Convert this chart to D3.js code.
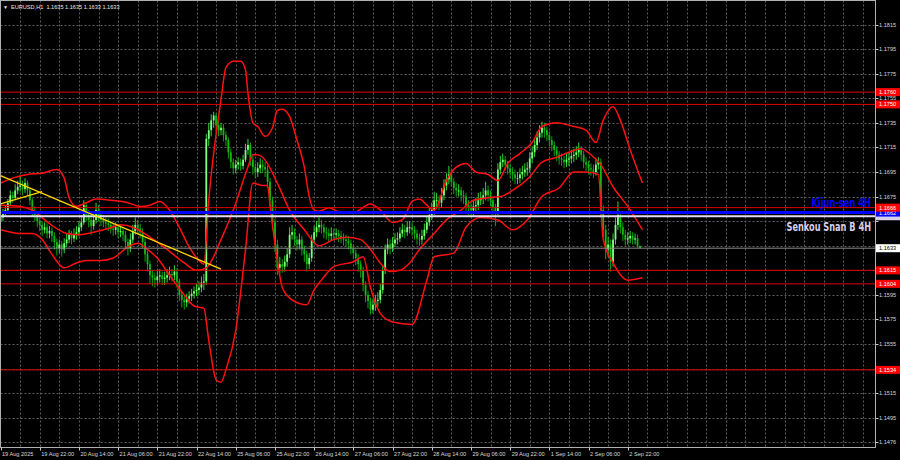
<!DOCTYPE html>
<html><head><meta charset="utf-8">
<script src="https://cdn.jsdelivr.net/npm/d3@7"></script>
<style>html,body{margin:0;padding:0;background:#000;overflow:hidden}</style>
</head><body>
<svg id="c" width="900" height="460"></svg>
<script>
// ---------------- data ----------------
const symbolTitle = "EURUSD,H1";
const titleQuote = ["1.1635", "1.1635", "1.1633", "1.1633"];
const firstOpen = 1.1655;
const closes = [
1.1658,1.1662,1.1664,1.1670,1.1676,1.1674,1.1680,1.1683,1.1684,1.1681,
1.1686,1.1680,1.1672,1.1663,1.1660,1.1655,1.1652,1.1648,1.1650,1.1645,
1.1647,1.1643,1.1638,1.1633,1.1636,1.1632,1.1637,1.1640,1.1644,1.1641,
1.1644,1.1646,1.1650,1.1654,1.1668,1.1660,1.1656,1.1651,1.1656,1.1664,
1.1660,1.1656,1.1654,1.1653,1.1652,1.1649,1.1648,1.1650,1.1646,1.1647,
1.1644,1.1638,1.1633,1.1640,1.1647,1.1652,1.1649,1.1646,1.1638,1.1628,
1.1620,1.1611,1.1609,1.1607,1.1610,1.1611,1.1608,1.1609,1.1611,1.1612,
1.1611,1.1614,1.1606,1.1595,1.1591,1.1589,1.1592,1.1594,1.1596,1.1598,
1.1599,1.1601,1.1605,1.1606,1.1722,1.1729,1.1737,1.1741,1.1733,1.1729,
1.1731,1.1725,1.1721,1.1711,1.1703,1.1698,1.1701,1.1703,1.1700,1.1705,
1.1713,1.1717,1.1705,1.1699,1.1695,1.1698,1.1701,1.1699,1.1697,1.1687,
1.1672,1.1654,1.1636,1.1617,1.1620,1.1618,1.1622,1.1628,1.1644,1.1646,
1.1640,1.1636,1.1640,1.1632,1.1628,1.1620,1.1625,1.1640,1.1646,1.1650,
1.1652,1.1650,1.1646,1.1645,1.1643,1.1645,1.1644,1.1645,1.1643,1.1641,
1.1640,1.1639,1.1637,1.1633,1.1629,1.1625,1.1620,1.1615,1.1603,1.1595,
1.1590,1.1583,1.1587,1.1590,1.1591,1.1599,1.1615,1.1632,1.1636,1.1633,
1.1637,1.1640,1.1641,1.1645,1.1648,1.1646,1.1650,1.1650,1.1648,1.1645,
1.1641,1.1640,1.1643,1.1648,1.1654,1.1660,1.1664,1.1672,1.1672,1.1670,
1.1676,1.1684,1.1689,1.1693,1.1687,1.1682,1.1680,1.1680,1.1676,1.1675,
1.1668,1.1666,1.1664,1.1667,1.1668,1.1672,1.1674,1.1676,1.1680,1.1676,
1.1672,1.1666,1.1663,1.1697,1.1703,1.1705,1.1701,1.1698,1.1695,1.1693,
1.1690,1.1690,1.1693,1.1695,1.1697,1.1698,1.1706,1.1711,1.1717,1.1723,
1.1727,1.1731,1.1729,1.1725,1.1721,1.1717,1.1713,1.1709,1.1706,1.1705,
1.1703,1.1705,1.1706,1.1708,1.1709,1.1711,1.1713,1.1709,1.1703,1.1701,
1.1698,1.1697,1.1695,1.1701,1.1703,1.1664,1.1648,1.1632,1.1636,1.1622,
1.1640,1.1652,1.1660,1.1650,1.1644,1.1640,1.1641,1.1643,1.1640,1.1641,
1.1635,1.1633];
const highs = [
1.1661,1.1665,1.1668,1.1673,1.1680,1.1679,1.1685,1.1688,1.1691,1.1688,
1.1690,1.1688,1.1682,1.1674,1.1667,1.1663,1.1658,1.1655,1.1654,1.1653,
1.1651,1.1650,1.1646,1.1641,1.1640,1.1639,1.1641,1.1645,1.1648,1.1647,
1.1649,1.1651,1.1655,1.1660,1.1672,1.1670,1.1664,1.1660,1.1662,1.1670,
1.1668,1.1663,1.1660,1.1658,1.1657,1.1655,1.1653,1.1654,1.1652,1.1651,
1.1650,1.1647,1.1641,1.1645,1.1652,1.1658,1.1656,1.1653,1.1649,1.1641,
1.1631,1.1623,1.1615,1.1613,1.1615,1.1616,1.1614,1.1614,1.1616,1.1618,
1.1616,1.1619,1.1617,1.1608,1.1598,1.1594,1.1596,1.1598,1.1600,1.1602,
1.1604,1.1606,1.1610,1.1612,1.1726,1.1735,1.1742,1.1744,1.1743,1.1737,
1.1735,1.1734,1.1728,1.1723,1.1714,1.1706,1.1705,1.1707,1.1706,1.1709,
1.1718,1.1722,1.1719,1.1708,1.1702,1.1703,1.1706,1.1705,1.1703,1.1700,
1.1690,1.1675,1.1657,1.1640,1.1626,1.1624,1.1627,1.1633,1.1650,1.1652,
1.1649,1.1643,1.1645,1.1643,1.1635,1.1631,1.1629,1.1644,1.1651,1.1655,
1.1658,1.1656,1.1653,1.1650,1.1649,1.1650,1.1649,1.1649,1.1648,1.1647,
1.1645,1.1644,1.1643,1.1640,1.1636,1.1632,1.1628,1.1623,1.1618,1.1606,
1.1598,1.1593,1.1592,1.1595,1.1597,1.1604,1.1619,1.1636,1.1641,1.1640,
1.1642,1.1645,1.1646,1.1650,1.1653,1.1652,1.1655,1.1655,1.1654,1.1651,
1.1648,1.1645,1.1648,1.1653,1.1659,1.1666,1.1670,1.1679,1.1678,1.1676,
1.1682,1.1689,1.1694,1.1700,1.1697,1.1690,1.1686,1.1685,1.1683,1.1680,
1.1678,1.1672,1.1670,1.1672,1.1674,1.1678,1.1679,1.1682,1.1687,1.1684,
1.1680,1.1675,1.1669,1.1702,1.1708,1.1710,1.1708,1.1704,1.1702,1.1699,
1.1697,1.1695,1.1698,1.1700,1.1702,1.1703,1.1711,1.1716,1.1722,1.1728,
1.1733,1.1736,1.1735,1.1732,1.1728,1.1724,1.1720,1.1716,1.1712,1.1710,
1.1708,1.1710,1.1711,1.1713,1.1714,1.1716,1.1719,1.1716,1.1712,1.1707,
1.1704,1.1702,1.1701,1.1706,1.1707,1.1706,1.1668,1.1652,1.1642,1.1640,
1.1645,1.1658,1.1671,1.1663,1.1654,1.1648,1.1646,1.1647,1.1646,1.1645,
1.1644,1.1635];
const lows = [
1.1651,1.1655,1.1659,1.1662,1.1668,1.1670,1.1672,1.1677,1.1679,1.1676,
1.1678,1.1676,1.1668,1.1659,1.1655,1.1650,1.1647,1.1643,1.1645,1.1641,
1.1641,1.1638,1.1632,1.1627,1.1629,1.1626,1.1629,1.1634,1.1637,1.1636,
1.1638,1.1640,1.1643,1.1647,1.1652,1.1655,1.1650,1.1644,1.1648,1.1653,
1.1655,1.1651,1.1650,1.1648,1.1647,1.1645,1.1643,1.1644,1.1641,1.1642,
1.1639,1.1633,1.1627,1.1630,1.1637,1.1644,1.1645,1.1641,1.1633,1.1622,
1.1614,1.1604,1.1602,1.1601,1.1603,1.1605,1.1603,1.1603,1.1605,1.1607,
1.1606,1.1607,1.1601,1.1590,1.1585,1.1583,1.1585,1.1588,1.1590,1.1592,
1.1594,1.1595,1.1597,1.1599,1.1603,1.1716,1.1724,1.1731,1.1728,1.1724,
1.1725,1.1720,1.1716,1.1706,1.1698,1.1693,1.1694,1.1697,1.1696,1.1697,
1.1703,1.1709,1.1700,1.1693,1.1690,1.1691,1.1694,1.1694,1.1691,1.1682,
1.1667,1.1648,1.1630,1.1611,1.1612,1.1613,1.1614,1.1618,1.1625,1.1640,
1.1635,1.1631,1.1632,1.1627,1.1622,1.1614,1.1616,1.1622,1.1637,1.1642,
1.1646,1.1645,1.1641,1.1640,1.1638,1.1639,1.1640,1.1640,1.1638,1.1637,
1.1635,1.1634,1.1632,1.1628,1.1624,1.1619,1.1614,1.1609,1.1598,1.1589,
1.1584,1.1579,1.1580,1.1582,1.1585,1.1588,1.1596,1.1612,1.1628,1.1628,
1.1630,1.1634,1.1636,1.1638,1.1642,1.1641,1.1643,1.1645,1.1643,1.1640,
1.1636,1.1635,1.1636,1.1640,1.1645,1.1651,1.1656,1.1660,1.1666,1.1664,
1.1666,1.1672,1.1680,1.1685,1.1683,1.1677,1.1675,1.1675,1.1671,1.1669,
1.1663,1.1660,1.1658,1.1659,1.1662,1.1664,1.1668,1.1669,1.1672,1.1671,
1.1667,1.1660,1.1651,1.1660,1.1693,1.1699,1.1696,1.1693,1.1690,1.1688,
1.1685,1.1685,1.1686,1.1689,1.1691,1.1692,1.1695,1.1702,1.1707,1.1713,
1.1719,1.1723,1.1723,1.1720,1.1716,1.1712,1.1708,1.1704,1.1701,1.1700,
1.1698,1.1699,1.1700,1.1702,1.1703,1.1705,1.1707,1.1704,1.1698,1.1696,
1.1693,1.1692,1.1690,1.1692,1.1697,1.1659,1.1642,1.1624,1.1626,1.1614,
1.1618,1.1636,1.1648,1.1645,1.1639,1.1635,1.1636,1.1637,1.1636,1.1636,
1.1633,1.1633];

// time axis: bar index of each labelled tick and its text
const timeTickBars = [0,16,32,48,64,80,96,112,128,144,160,176,192,208,224,240,256];
const timeTickLabels = ["19 Aug 2025","19 Aug 22:00","20 Aug 14:00","21 Aug 06:00","21 Aug 22:00",
  "22 Aug 14:00","25 Aug 06:00","25 Aug 22:00","26 Aug 14:00","27 Aug 06:00","27 Aug 22:00",
  "28 Aug 14:00","29 Aug 06:00","29 Aug 22:00","1 Sep 14:00","2 Sep 06:00","2 Sep 22:00"];
const visibleBars = 357;

// price axis
const priceTicks = [1.1815,1.1795,1.1775,1.1755,1.1735,1.1715,1.1695,1.1675,1.1655,1.1635,
  1.1615,1.1595,1.1575,1.1555,1.1535,1.1515,1.1495,1.1475];
const priceTickLabels = ["1.1815","1.1795","1.1775","1.1755","1.1735","1.1715","1.1695","1.1675",
  "1.1655","1.1635","1.1615","1.1595","1.1575","1.1555","1.1535","1.1515","1.1495","1.1476"];

// horizontal levels
const redLevels = [1.1760,1.1750,1.1666,1.1615,1.1604,1.1534];
const redLevelLabels = ["1.1760","1.1750","1.1666","1.1615","1.1604","1.1534"];
const kijunLevel = 1.1662, kijunLabel = "1.1662", kijunText = "Kijun-sen 4H";
const senkouLevel = 1.1659, senkouLabel = "1.1659", senkouText = "Senkou Snan B 4H";
const lastPrice = 1.1633, lastPriceLabel = "1.1633";

// trend lines [bar, price]
const trendDown = [[0,1.1692],[90,1.1616]];
const trendUp = [[0,1.1669],[17,1.1679]];

// red envelope curves [bar, price]
const bandUpper = [[0,1.1686],[5,1.1690],[11,1.1693],[17,1.1694],[23,1.1697],[26,1.1690],[28,1.1674],
 [31,1.1667],[35,1.1670],[39,1.1673],[45,1.1672],[52,1.1670],[57,1.1667],[61,1.1668],[65,1.1671],
 [69,1.1664],[73,1.1650],[77,1.1634],[81,1.1623],[83,1.1620],[85,1.1672],[90,1.1754],[92,1.1780],
 [95,1.1785],[98,1.1785],[100,1.1778],[101,1.1759],[103,1.1735],[105,1.1732],[108,1.1724],[111,1.1731],
 [113,1.1745],[115,1.1746],[118,1.1740],[121,1.1721],[124,1.1699],[126,1.1675],[128,1.1664],[130,1.1663],
 [134,1.1666],[139,1.1662],[144,1.1662],[151,1.1669],[155,1.1664],[160,1.1654],[164,1.1656],[168,1.1671],
 [171,1.1673],[174,1.1668],[177,1.1664],[182,1.1688],[186,1.1699],[190,1.1702],[194,1.1695],[199,1.1693],
 [203,1.1688],[207,1.1702],[212,1.1710],[217,1.1719],[221,1.1732],[227,1.1735],[234,1.1732],[239,1.1729],
 [243,1.1719],[246,1.1737],[250,1.1748],[253,1.1737],[257,1.1713],[262,1.1686]];
const bandMiddle = [[0,1.1668],[8,1.1667],[13,1.1664],[20,1.1653],[27,1.1645],[32,1.1644],[38,1.1646],
 [44,1.1649],[49,1.1652],[54,1.1650],[61,1.1642],[68,1.1632],[75,1.1621],[80,1.1615],[84,1.1617],
 [90,1.1640],[95,1.1664],[101,1.1699],[103,1.1709],[105,1.1709],[107,1.1707],[113,1.1686],[118,1.1664],
 [124,1.1648],[130,1.1635],[136,1.1640],[141,1.1642],[147,1.1640],[151,1.1632],[155,1.1621],[159,1.1614],
 [163,1.1615],[167,1.1621],[171,1.1632],[177,1.1645],[182,1.1656],[188,1.1664],[193,1.1672],[199,1.1674],
 [204,1.1675],[209,1.1680],[216,1.1691],[221,1.1703],[227,1.1707],[232,1.1711],[237,1.1714],[241,1.1709],
 [245,1.1701],[250,1.1683],[256,1.1667],[262,1.1648]];
const bandLower = [[0,1.1648],[8,1.1645],[13,1.1645],[17,1.1640],[21,1.1628],[26,1.1617],[31,1.1621],
 [35,1.1623],[41,1.1623],[46,1.1625],[52,1.1634],[56,1.1637],[60,1.1632],[64,1.1625],[69,1.1611],
 [75,1.1595],[79,1.1586],[83,1.1584],[85,1.1558],[88,1.1526],[90,1.1524],[92,1.1534],[96,1.1566],
 [100,1.1632],[103,1.1686],[107,1.1684],[109,1.1684],[110,1.1668],[113,1.1623],[115,1.1601],[119,1.1591],
 [125,1.1587],[128,1.1599],[131,1.1607],[136,1.1618],[144,1.1622],[148,1.1626],[151,1.1601],[155,1.1580],
 [160,1.1573],[168,1.1571],[174,1.1607],[177,1.1626],[185,1.1629],[190,1.1650],[196,1.1658],[203,1.1656],
 [209,1.1648],[215,1.1656],[221,1.1675],[228,1.1682],[234,1.1695],[239,1.1695],[244,1.1693],[246,1.1640],
 [250,1.1621],[256,1.1607],[262,1.1609]];

// ---------------- drawing ----------------
const W = 900, H = 460;
const plotLeft = 0.5, plotRight = 875.5, plotTop = 0.5, plotBottom = 447.5;
const svg = d3.select("#c");
svg.append("rect").attr("width", W).attr("height", H).attr("fill", "#000");

const x = d3.scaleLinear().domain([0, visibleBars]).range([0.5, 875.2]);
const y = d3.scaleLinear().domain([1.1475, 1.1815]).range([442.4, 24.5]);

const FONT = "'Liberation Sans', Arial, sans-serif";
const LABEL_FONT = "'DejaVu Sans Condensed','DejaVu Sans',sans-serif";

svg.append("clipPath").attr("id", "plotclip").append("rect")
  .attr("x", plotLeft).attr("y", plotTop).attr("width", plotRight - plotLeft).attr("height", plotBottom - plotTop);

const grid = svg.append("g").attr("clip-path", "url(#plotclip)");
grid.selectAll("line.hg").data(priceTicks).join("line")
  .attr("x1", plotLeft).attr("x2", plotRight)
  .attr("y1", d => Math.round(y(d)) + 0.5).attr("y2", d => Math.round(y(d)) + 0.5)
  .attr("stroke", "#5c5c5c").attr("stroke-width", 1).attr("stroke-dasharray", "2,2");
const vgBars = d3.range(8, visibleBars, 8);
grid.selectAll("line.vg").data(vgBars).join("line")
  .attr("x1", d => Math.round(x(d)) + 0.5).attr("x2", d => Math.round(x(d)) + 0.5)
  .attr("y1", plotTop).attr("y2", plotBottom)
  .attr("stroke", "#5c5c5c").attr("stroke-width", 1).attr("stroke-dasharray", "2,2");

const plot = svg.append("g").attr("clip-path", "url(#plotclip)");

// candles
const bars = closes.map((c, i) => ({
  i, o: i === 0 ? firstOpen : closes[i - 1], c, h: highs[i], l: lows[i]
}));
const bullCol = "#7dff7d", bearCol = "#14b814";
plot.selectAll("line.wick").data(bars).join("line")
  .attr("x1", d => x(d.i)).attr("x2", d => x(d.i))
  .attr("y1", d => y(d.h)).attr("y2", d => y(d.l))
  .attr("stroke", d => d.c >= d.o ? "#2fd82f" : "#10a010").attr("stroke-width", 1);
plot.selectAll("rect.body").data(bars).join("rect")
  .attr("x", d => x(d.i) - 0.9).attr("width", 1.8)
  .attr("y", d => y(Math.max(d.o, d.c)))
  .attr("height", d => Math.max(1, Math.abs(y(d.o) - y(d.c))))
  .attr("fill", d => d.c >= d.o ? bullCol : bearCol);

// red envelope curves
const bandLine = d3.line().x(d => x(d[0])).y(d => y(d[1])).curve(d3.curveMonotoneX);
[bandUpper, bandMiddle, bandLower].forEach(b => {
  plot.append("path").attr("d", bandLine(b)).attr("fill", "none")
    .attr("stroke", "#ff1010").attr("stroke-width", 1.5);
});

// horizontal levels
plot.selectAll("line.red").data(redLevels).join("line")
  .attr("x1", plotLeft).attr("x2", plotRight)
  .attr("y1", d => y(d)).attr("y2", d => y(d))
  .attr("stroke", "#e00000").attr("stroke-width", 1);
plot.append("line").attr("x1", plotLeft).attr("x2", plotRight)
  .attr("y1", y(lastPrice)).attr("y2", y(lastPrice))
  .attr("stroke", "#8a8a8a").attr("stroke-width", 1);
plot.append("line").attr("x1", plotLeft).attr("x2", plotRight)
  .attr("y1", y(senkouLevel)).attr("y2", y(senkouLevel))
  .attr("stroke", "#e2dcf2").attr("stroke-width", 2);
plot.append("line").attr("x1", plotLeft).attr("x2", plotRight)
  .attr("y1", y(kijunLevel)).attr("y2", y(kijunLevel))
  .attr("stroke", "#0000ff").attr("stroke-width", 3);

// trend lines
const tl = d3.line().x(d => x(d[0])).y(d => y(d[1]));
[trendDown, trendUp].forEach(t => {
  plot.append("path").attr("d", tl(t)).attr("fill", "none")
    .attr("stroke", "#ffd700").attr("stroke-width", 1.3);
});

// level texts (tall, narrow bold lettering, as in the original)
svg.append("text").attr("transform", `translate(871,${y(kijunLevel) - 5.5}) scale(0.74,1)`)
  .attr("text-anchor", "end").attr("font-family", LABEL_FONT)
  .attr("font-weight", "bold").attr("font-size", 12.5).attr("fill", "#0000ff").text(kijunText);
svg.append("text").attr("transform", `translate(871,${y(senkouLevel) + 14.5}) scale(0.73,1)`)
  .attr("text-anchor", "end").attr("font-family", LABEL_FONT)
  .attr("font-weight", "bold").attr("font-size", 12.5).attr("fill", "#d6d0ea").text(senkouText);

// frame
svg.append("rect").attr("x", plotLeft).attr("y", plotTop)
  .attr("width", plotRight - plotLeft).attr("height", plotBottom - plotTop)
  .attr("fill", "none").attr("stroke", "#b0b0b0").attr("stroke-width", 1);

// right price axis (tick labels hidden behind the level boxes are not drawn, as in the original)
const boxLevels = redLevels.concat([kijunLevel, senkouLevel, lastPrice]);
const shownTicks = priceTicks.map((p, i) => ({ p, label: priceTickLabels[i] }))
  .filter(t => boxLevels.every(b => Math.abs(y(b) - y(t.p)) > 5));
const ax = svg.append("g");
ax.selectAll("line.pt").data(priceTicks).join("line")
  .attr("x1", plotRight).attr("x2", plotRight + 3)
  .attr("y1", d => Math.round(y(d)) + 0.5).attr("y2", d => Math.round(y(d)) + 0.5)
  .attr("stroke", "#c8c8c8");
ax.selectAll("text.pt").data(shownTicks).join("text")
  .attr("x", 879).attr("y", d => y(d.p) + 2)
  .attr("font-family", FONT).attr("font-size", 5.6).attr("fill", "#d8d8d8")
  .text(d => d.label);

function priceBox(level, label, bg, fg, showText) {
  const g = svg.append("g");
  g.append("rect").attr("x", 876).attr("y", y(level) - 4).attr("width", 24).attr("height", 8).attr("fill", bg);
  if (showText) g.append("text").attr("x", 879).attr("y", y(level) + 2)
    .attr("font-family", FONT).attr("font-size", 5.6).attr("fill", fg).text(label);
}
priceBox(senkouLevel, senkouLabel, "#d6d0ea", "#202020", false);
priceBox(kijunLevel, kijunLabel, "#0000ff", "#ffffff", true);
redLevels.forEach((l, i) => priceBox(l, redLevelLabels[i], "#ff0000", "#ffffff", true));
priceBox(lastPrice, lastPriceLabel, "#ffffff", "#000000", true);

// bottom time axis
const tx = svg.append("g");
tx.selectAll("line.tt").data(timeTickBars).join("line")
  .attr("x1", d => Math.round(x(d)) + 0.5).attr("x2", d => Math.round(x(d)) + 0.5)
  .attr("y1", plotBottom).attr("y2", plotBottom + 3).attr("stroke", "#c8c8c8");
tx.selectAll("text.tt").data(timeTickBars).join("text")
  .attr("x", d => x(d) + 1.5).attr("y", 455.5)
  .attr("font-family", FONT).attr("font-size", 5.6).attr("fill", "#d8d8d8")
  .text((d, i) => timeTickLabels[i]);

// title
svg.append("text").attr("x", 3).attr("y", 8.5).attr("font-family", FONT).attr("font-size", 5)
  .attr("fill", "#e8e8e8").text("\u25BC");
svg.append("text").attr("x", 11).attr("y", 8.5).attr("font-family", FONT).attr("font-size", 5.6)
  .attr("fill", "#e8e8e8").attr("xml:space", "preserve")
  .text(symbolTitle + "  " + titleQuote.join(" "));
</script>
</body></html>
